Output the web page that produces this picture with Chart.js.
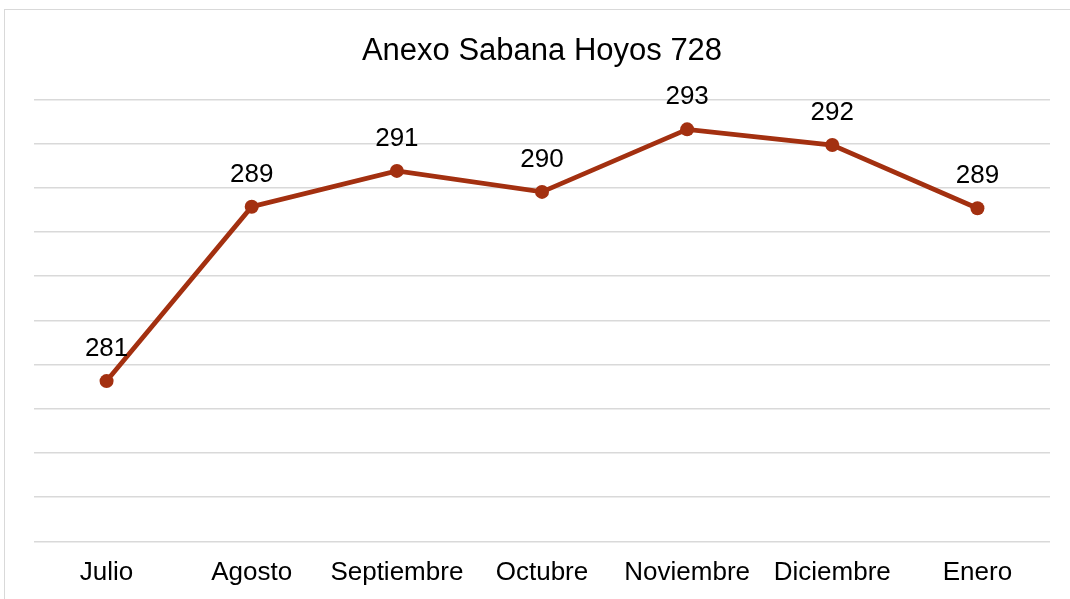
<!DOCTYPE html>
<html>
<head>
<meta charset="utf-8">
<script src="https://cdn.jsdelivr.net/npm/chart.js@4/dist/chart.umd.min.js"></script>
<style>
  html, body { margin: 0; padding: 0; background: #ffffff; overflow: hidden; }
  #frame { position: absolute; left: 4px; top: 9px; width: 1100px; height: 620px; border: 1px solid #d9d9d9; box-sizing: border-box; }
  #c { position: absolute; left: 0; top: 0; }
</style>
</head>
<body>
<div id="frame"></div>
<canvas id="c" width="1070" height="599"></canvas>
<script>
const chartTitle = "Anexo Sabana Hoyos 728";
const categories = ["Julio", "Agosto", "Septiembre", "Octubre", "Noviembre", "Diciembre", "Enero"];
const values = [281.25, 289.14, 290.76, 289.81, 292.64, 291.93, 289.07];
const yMin = 274;
const yMax = 294;
const yStep = 2;

const lineColor = "#A33010";
const font = "'Liberation Sans', Arial, sans-serif";

const valueLabels = {
  id: 'valueLabels',
  afterDatasetsDraw(chart) {
    const ctx = chart.ctx;
    const meta = chart.getDatasetMeta(0);
    ctx.save();
    ctx.font = "26px " + font;
    ctx.fillStyle = "#000000";
    ctx.textAlign = "center";
    ctx.textBaseline = "alphabetic";
    meta.data.forEach((pt, i) => {
      ctx.fillText(String(Math.round(values[i])), pt.x, pt.y - 25);
    });
    ctx.restore();
  }
};

new Chart(document.getElementById('c'), {
  type: 'line',
  data: {
    labels: categories,
    datasets: [{
      data: values,
      borderColor: lineColor,
      backgroundColor: lineColor,
      borderWidth: 4.75,
      pointRadius: 7,
      pointBorderWidth: 0,
      pointBackgroundColor: lineColor,
      tension: 0,
      fill: false
    }]
  },
  options: {
    responsive: false,
    animation: false,
    devicePixelRatio: 1,
    layout: { padding: { left: 34, right: 20, top: 0, bottom: 0 } },
    plugins: {
      legend: { display: false },
      tooltip: { enabled: false },
      title: {
        display: true,
        text: chartTitle,
        color: "#000000",
        font: { family: font, size: 31, weight: 'normal', lineHeight: 1.2 },
        padding: { top: 32.5, bottom: 29.6 }
      }
    },
    scales: {
      x: {
        offset: true,
        grid: { display: false, drawTicks: false },
        border: { display: false },
        ticks: {
          color: "#000000",
          font: { family: font, size: 26 },
          padding: 15.7,
          maxRotation: 0,
          autoSkip: false
        },
        afterFit(scale) { scale.height = 57.7; }
      },
      y: {
        min: yMin,
        max: yMax,
        grid: { color: "#d9d9d9", lineWidth: 1.5, drawTicks: false },
        border: { display: false },
        ticks: { display: false, stepSize: yStep }
      }
    }
  },
  plugins: [valueLabels]
});
</script>
</body>
</html>
